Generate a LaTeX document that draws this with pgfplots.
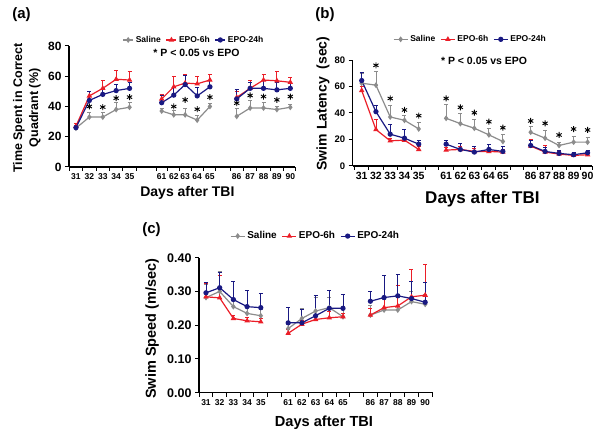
\documentclass[border=0pt]{standalone}
\usepackage{pgfplots}
\pgfplotsset{compat=1.18}
\usepackage{fontspec}
\setmainfont{Liberation Sans}
\definecolor{cgrey}{RGB}{140,140,140}
\definecolor{cred}{RGB}{235,30,40}
\definecolor{cblue}{RGB}{25,25,130}
\newcommand{\fs}[1]{\bfseries\fontsize{#1}{#1}\selectfont}
\pgfplotsset{
  mystyle/.style={
    scale only axis, anchor=south west,
    axis x line*=bottom, axis y line*=left,
    axis line style={line width=1.3pt, -},
    every tick/.style={line width=1pt, black},
    tick align=outside, major tick length=4pt,
    /pgf/number format/assume math mode=true,
    unbounded coords=jump,
    xticklabels={},
    extra x tick style={major tick length=0pt, tick label style={yshift=-3pt}},
    clip=false,
    legend style={draw=none, fill=none, /tikz/every even column/.append style={column sep=3pt}},
    legend columns=3,
  },
  ebar/.style={error bars/.cd, y dir=plus, y explicit, error bar style={line width=0.9pt, solid},
    error mark=-, error mark options={rotate=90, mark size=2pt, line width=0.9pt}},
  sal/.style={cgrey, line width=1.2pt, mark=diamond*, mark size=2pt, mark options={solid}, ebar},
  e6/.style={cred, line width=1.2pt, mark=triangle*, mark size=2pt, mark options={solid}, ebar},
  e24/.style={cblue, line width=1.2pt, mark=*, mark size=2pt, mark options={solid}, ebar},
  star/.style={only marks, mark=asterisk, mark size=3pt, black, line width=0.9pt, forget plot},
}
\begin{document}
\begin{tikzpicture}
\useasboundingbox (0,0) rectangle (602pt,439pt);
\node[font=\fs{15}] at (21.5pt,424pt) {(a)};
\node[font=\fs{15}] at (325pt,424pt) {(b)};
\node[font=\fs{15}] at (151.5pt,209pt) {(c)};
% ---------------- (a)
\begin{axis}[mystyle, at={(69pt,272pt)}, width=226pt, height=121pt,
  xmin=-0.52, xmax=16.35, ymin=0, ymax=80, ytick={0,20,40,60,80},
  xtick={-0.5,0.5,1.5,2.5,3.5,4.5,6.0,6.85,7.72,8.6,9.52,10.45,11.5,12.5,13.5,14.5,15.5,16.35},
  extra x ticks={0,1,2,3,4,6.4,7.3,8.15,9.05,10,12,13,14,15,16},
  extra x tick labels={31,32,33,34,35,61,62,63,64,65,86,87,88,89,90},
  xticklabel style={font=\fs{8.5}}, yticklabel style={font=\fs{12}},
  ylabel={Time Spent in Correct\\Quadrant (\%)},
  ylabel style={font=\bfseries\fontsize{12.5}{16}\selectfont, align=center, at={(axis description cs:-0.186,0.488)}, anchor=center},
  xlabel={Days after TBI},
  xlabel style={font=\fs{14}, at={(axis description cs:0.524,-0.215)}, anchor=center},
  legend style={at={(0.553,1.05)}, anchor=center, font=\fs{8.5}},
  legend image code/.code={\draw[mark repeat=2, mark phase=2, #1] plot coordinates {(0pt,0pt) (5pt,0pt) (10pt,0pt)};},
]
\addplot[sal] table[x index=0, y index=1, y error index=2] {
0 25.7 2
1 33 3
2 33 3
3 38 5
4 39.5 3
5 nan 0
6.4 37 2
7.3 34.5 3
8.15 34.5 4
9.05 31 3
10 40 2
11 nan 0
12 33.5 5
13 39 5
14 39 4
15 38 2
16 39.5 2
};
\addplot[e6] table[x index=0, y index=1, y error index=2] {
0 27 2
1 47 3
2 52 5
3 58 6
4 57.5 5.5
5 nan 0
6.4 45 3
7.3 53 7
8.15 55.5 6
9.05 55 5
10 57.5 4
11 nan 0
12 46 4
13 52 5
14 57.5 4
15 57 6.5
16 56 3
};
\addplot[e24] table[x index=0, y index=1, y error index=2] {
0 26 1.5
1 44 6
2 48 4
3 50.5 4
4 52 4
5 nan 0
6.4 42.5 5
7.3 47.5 5
8.15 54.5 6
9.05 47 5.5
10 53 4.5
11 nan 0
12 45 6
13 52 4
14 52 5
15 51 5
16 52 4
};
\addplot[star] table {
1 40
2 39.6
3 45.5
4 46.2
7.3 40
8.15 44.4
9.05 38.2
10 46.2
12 42.2
13 47.3
14 46.6
15 44.4
16 46.6
};
\legend{Saline,EPO-6h,EPO-24h}
\node[font=\fs{10.5}] at (rel axis cs:0.564,0.942) {* P < 0.05 vs EPO};
\end{axis}
% ---------------- (b)
\begin{axis}[mystyle, at={(352.7pt,273pt)}, width=239.3pt, height=106pt,
  xmin=-0.63, xmax=16.15, ymin=0, ymax=80, ytick={0,20,40,60,80},
  xtick={-0.5,0.5,1.5,2.5,3.5,4.5,5.42,6.42,7.41,8.41,9.41,10.4,11.35,12.35,13.35,14.35,15.35,16.15},
  extra x ticks={0,1,2,3,4,5.92,6.92,7.9,8.92,9.9,11.85,12.86,13.84,14.86,15.84},
  extra x tick labels={31,32,33,34,35,61,62,63,64,65,86,87,88,89,90},
  xticklabel style={font=\fs{10.5}}, yticklabel style={font=\fs{9.5}},
  ylabel={Swim Latency\ \ (sec)},
  ylabel style={font=\fs{14}, at={(axis description cs:-0.124,0.59)}, anchor=center},
  xlabel={Days after TBI},
  xlabel style={font=\fs{17}, at={(axis description cs:0.542,-0.311)}, anchor=center},
  legend style={at={(0.492,1.195)}, anchor=center, font=\fs{8.5}},
  legend image code/.code={\draw[mark repeat=2, mark phase=2, #1] plot coordinates {(0pt,0pt) (7pt,0pt) (14pt,0pt)};},
]
\addplot[sal] table[x index=0, y index=1, y error index=2] {
0 62.5 7
1 61 10
2 37 9
3 34.5 3.5
4 28 5
5 nan 0
5.92 36 10.5
6.92 32 8
7.9 28.5 6.5
8.92 23.5 4.5
9.9 18.5 5
10.9 nan 0
11.85 25.5 4
12.86 21 6
13.84 15.5 2.5
14.86 18 4.5
15.84 18 3.5
};
\addplot[e6] table[x index=0, y index=1, y error index=2] {
0 57 3
1 27.5 8
2 19 2
3 19.5 2
4 12.5 2
5 nan 0
5.92 12 2
6.92 12.5 2
7.9 11 2
8.92 11 2
9.9 10.5 2
10.9 nan 0
11.85 15 5
12.86 10.5 5
13.84 9 2
14.86 8 1.5
15.84 8.5 1.5
};
\addplot[e24] table[x index=0, y index=1, y error index=2] {
0 64.5 6
1 41 5
2 24 7
3 21 6.5
4 16.5 3
5 nan 0
5.92 16.5 2.5
6.92 12.5 4.5
7.9 10.5 4.5
8.92 12.5 4
9.9 11 4
10.9 nan 0
11.85 15.5 4
12.86 11 3
13.84 9.5 2
14.86 8.5 1.5
15.84 10 2
};
\addplot[star] table {
1 76
2 51
3 42.3
4 38
5.92 51
6.92 44.3
7.9 40.2
8.92 33.4
9.9 28.9
11.85 34
12.86 32.2
13.84 23.4
14.86 27.9
15.84 27.2
};
\legend{Saline,EPO-6h,EPO-24h}
\node[font=\fs{10.5}] at (rel axis cs:0.549,0.99) {* P < 0.05 vs EPO};
\end{axis}
% ---------------- (c)
\begin{axis}[mystyle, at={(199pt,46.3pt)}, width=234pt, height=135pt,
  xmin=-0.51, xmax=16.57, ymin=0, ymax=0.4, ytick={0,0.1,0.2,0.3,0.4},
  yticklabel style={font=\fs{12.5}, /pgf/number format/.cd, fixed, fixed zerofill, precision=2},
  xtick={-0.5,0.5,1.5,2.5,3.5,4.5,5.5,6.5,7.5,8.5,9.5,10.5,11.5,12.5,13.5,14.5,15.5,16.5},
  extra x ticks={0,1,2,3,4,6,7,8,9,10,12,13,14,15,16},
  extra x tick labels={31,32,33,34,35,61,62,63,64,65,86,87,88,89,90},
  xticklabel style={font=\fs{8.5}},
  ylabel={Swim Speed (m/sec)},
  ylabel style={font=\fs{14.5}, at={(axis description cs:-0.2,0.475)}, anchor=center},
  xlabel={Days after TBI},
  xlabel style={font=\fs{14.6}, at={(axis description cs:0.534,-0.224)}, anchor=center},
  legend style={at={(0.498,1.16)}, anchor=center, font=\fs{10}},
  legend image code/.code={\draw[mark repeat=2, mark phase=2, #1] plot coordinates {(0pt,0pt) (7pt,0pt) (14pt,0pt)};},
]
\addplot[sal] table[x index=0, y index=1, y error index=2] {
0 0.282 0.04
1 0.300 0.06
2 0.255 0.02
3 0.235 0.02
4 0.228 0.02
5 nan 0
6 0.190 0.02
7 0.220 0.03
8 0.242 0.04
9 0.252 0.03
10 0.225 0.03
11 nan 0
12 0.230 0.03
13 0.245 0.03
14 0.245 0.04
15 0.270 0.03
16 0.262 0.03
};
\addplot[e6] table[x index=0, y index=1, y error index=2] {
0 0.284 0.04
1 0.281 0.065
2 0.220 0.01
3 0.213 0.01
4 0.210 0.01
5 nan 0
6 0.176 0.01
7 0.203 0.01
8 0.217 0.01
9 0.222 0.02
10 0.225 0.01
11 nan 0
12 0.230 0.02
13 0.252 0.03
14 0.257 0.06
15 0.284 0.08
16 0.289 0.09
};
\addplot[e24] table[x index=0, y index=1, y error index=2] {
0 0.296 0.03
1 0.311 0.045
2 0.276 0.054
3 0.255 0.049
4 0.252 0.042
5 nan 0
6 0.207 0.046
7 0.207 0.04
8 0.228 0.059
9 0.250 0.054
10 0.250 0.041
11 nan 0
12 0.271 0.03
13 0.282 0.065
14 0.287 0.064
15 0.279 0.052
16 0.268 0.058
};
\legend{Saline,EPO-6h,EPO-24h}
\end{axis}
\end{tikzpicture}
\end{document}
